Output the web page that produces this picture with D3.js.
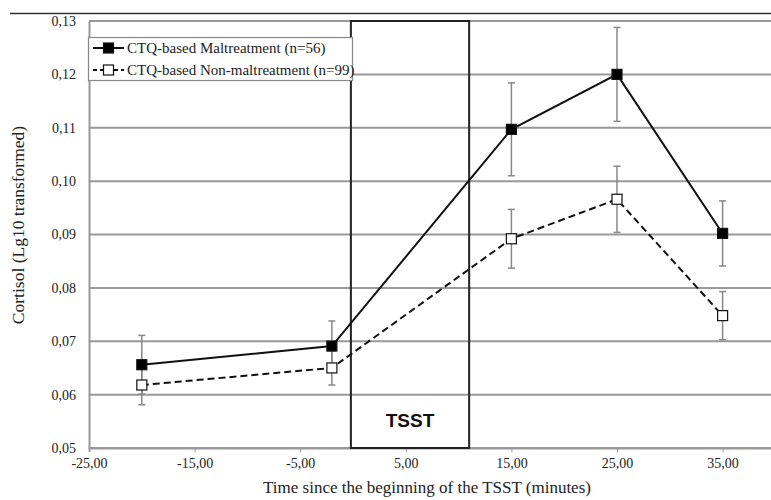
<!DOCTYPE html>
<html><head><meta charset="utf-8">
<script src="https://cdn.jsdelivr.net/npm/d3@7"></script>
<style>body{margin:0;background:#fff}svg{display:block}</style>
</head><body><svg id="c" width="771" height="500"></svg>
<script>
const timePoints = [-20, -2, 15, 25, 35];
const maltreatMean = [0.0656, 0.0691, 0.1097, 0.1200, 0.0902];
const maltreatErr  = [0.0055, 0.0047, 0.0087, 0.0088, 0.0061];
const nonMaltMean  = [0.0618, 0.0650, 0.0892, 0.0966, 0.0748];
const nonMaltErr   = [0.0037, 0.0032, 0.0055, 0.0062, 0.0045];
const seriesNames = ["CTQ-based Maltreatment (n=56)", "CTQ-based Non-maltreatment (n=99)"];
const xTicks = [-25, -15, -5, 5, 15, 25, 35];
const yTicks = [0.05, 0.06, 0.07, 0.08, 0.09, 0.10, 0.11, 0.12, 0.13];
const tsstStart = -0.2, tsstEnd = 11;

const svg = d3.select("#c");
const L = 89, T = 21, B = 448;
const x = d3.scaleLinear().domain([-25, 45]).range([L, L + 70 * 10.56]);
const y = d3.scaleLinear().domain([0.05, 0.13]).range([B, T]);
const fmt = v => d3.format(".2f")(v).replace("\u2212", "-").replace(".", ",");
const serif = "'Liberation Serif', 'Times New Roman', serif";

// top separator line
svg.append("line").attr("x1", 10).attr("x2", 771).attr("y1", 13.5).attr("y2", 13.5)
  .attr("stroke", "#333").attr("stroke-width", 1.5);

// gridlines
svg.append("g").selectAll("line").data(yTicks).join("line")
  .attr("x1", L).attr("x2", 771).attr("y1", d => y(d)).attr("y2", d => y(d))
  .attr("stroke", "#999").attr("stroke-width", 2);

// y axis
const ya = svg.append("g").attr("transform", `translate(${L},0)`)
  .call(d3.axisLeft(y).tickValues(yTicks).tickFormat(fmt).tickSize(0).tickPadding(13));
ya.select(".domain").attr("stroke", "#999").attr("stroke-width", 2);
ya.selectAll("text").attr("font-family", serif).attr("font-size", 14).attr("fill", "#222");

// x axis
const xa = svg.append("g").attr("transform", `translate(0,${B})`)
  .call(d3.axisBottom(x).tickValues(xTicks).tickFormat(fmt).tickSize(4).tickPadding(6));
xa.select(".domain").attr("stroke", "#999").attr("stroke-width", 2);
xa.selectAll(".tick line").attr("stroke", "#999");
xa.selectAll("text").attr("font-family", serif).attr("font-size", 14).attr("fill", "#222");

// TSST box
svg.append("rect").attr("x", x(tsstStart)).attr("y", y(0.13))
  .attr("width", x(tsstEnd) - x(tsstStart)).attr("height", y(0.05) - y(0.13))
  .attr("fill", "none").attr("stroke", "#222").attr("stroke-width", 2);
svg.append("text").attr("x", (x(tsstStart) + x(tsstEnd)) / 2).attr("y", 427)
  .attr("text-anchor", "middle").attr("font-family", "'Liberation Sans', Arial, sans-serif")
  .attr("font-weight", "bold").attr("font-size", 19).attr("fill", "#111").text("TSST");

const series = [
  {mean: maltreatMean, err: maltreatErr, dash: null, fill: "#000"},
  {mean: nonMaltMean, err: nonMaltErr, dash: "7,4", fill: "#fff"}
];
const line = d3.line().x((d, i) => x(timePoints[i])).y(d => y(d));

series.forEach(s => {
  const g = svg.append("g");
  const eb = g.selectAll("g.eb").data(s.mean).join("g");
  eb.append("line").attr("x1", (d, i) => x(timePoints[i])).attr("x2", (d, i) => x(timePoints[i]))
    .attr("y1", (d, i) => y(d + s.err[i])).attr("y2", (d, i) => y(d - s.err[i]))
    .attr("stroke", "#888").attr("stroke-width", 1.5);
  [1, -1].forEach(sg => {
    eb.append("line").attr("x1", (d, i) => x(timePoints[i]) - 3.5).attr("x2", (d, i) => x(timePoints[i]) + 3.5)
      .attr("y1", (d, i) => y(d + sg * s.err[i])).attr("y2", (d, i) => y(d + sg * s.err[i]))
      .attr("stroke", "#888").attr("stroke-width", 1.5);
  });
});
series.forEach(s => {
  svg.append("path").datum(s.mean).attr("d", line).attr("fill", "none")
    .attr("stroke", "#111").attr("stroke-width", 2).attr("stroke-dasharray", s.dash);
  svg.append("g").selectAll("rect").data(s.mean).join("rect")
    .attr("x", (d, i) => x(timePoints[i]) - 5).attr("y", d => y(d) - 5)
    .attr("width", 10).attr("height", 10).attr("fill", s.fill)
    .attr("stroke", "#111").attr("stroke-width", 1.2);
});

// legend
const lg = svg.append("g");
lg.append("rect").attr("x", 88.5).attr("y", 37.5).attr("width", 264).attr("height", 43)
  .attr("fill", "#fff").attr("stroke", "#888").attr("stroke-width", 1.2);
series.forEach((s, i) => {
  const cy = 48 + i * 22;
  lg.append("line").attr("x1", 93).attr("x2", 124).attr("y1", cy).attr("y2", cy)
    .attr("stroke", "#111").attr("stroke-width", 2).attr("stroke-dasharray", s.dash ? "4,3" : null);
  lg.append("rect").attr("x", 103.5).attr("y", cy - 5).attr("width", 10).attr("height", 10)
    .attr("fill", s.fill).attr("stroke", "#111").attr("stroke-width", 1.2);
  lg.append("text").attr("x", 127).attr("y", cy + 5).attr("font-family", serif)
    .attr("font-size", 15).attr("fill", "#222").text(seriesNames[i]);
});

// axis titles
svg.append("text").attr("x", 427).attr("y", 493).attr("text-anchor", "middle")
  .attr("font-family", serif).attr("font-size", 17).attr("fill", "#222")
  .text("Time since the beginning of the TSST (minutes)");
svg.append("text").attr("transform", "translate(24,225) rotate(-90)").attr("text-anchor", "middle")
  .attr("font-family", serif).attr("font-size", 17.5).attr("fill", "#222")
  .text("Cortisol (Lg10 transformed)");
</script></body></html>
